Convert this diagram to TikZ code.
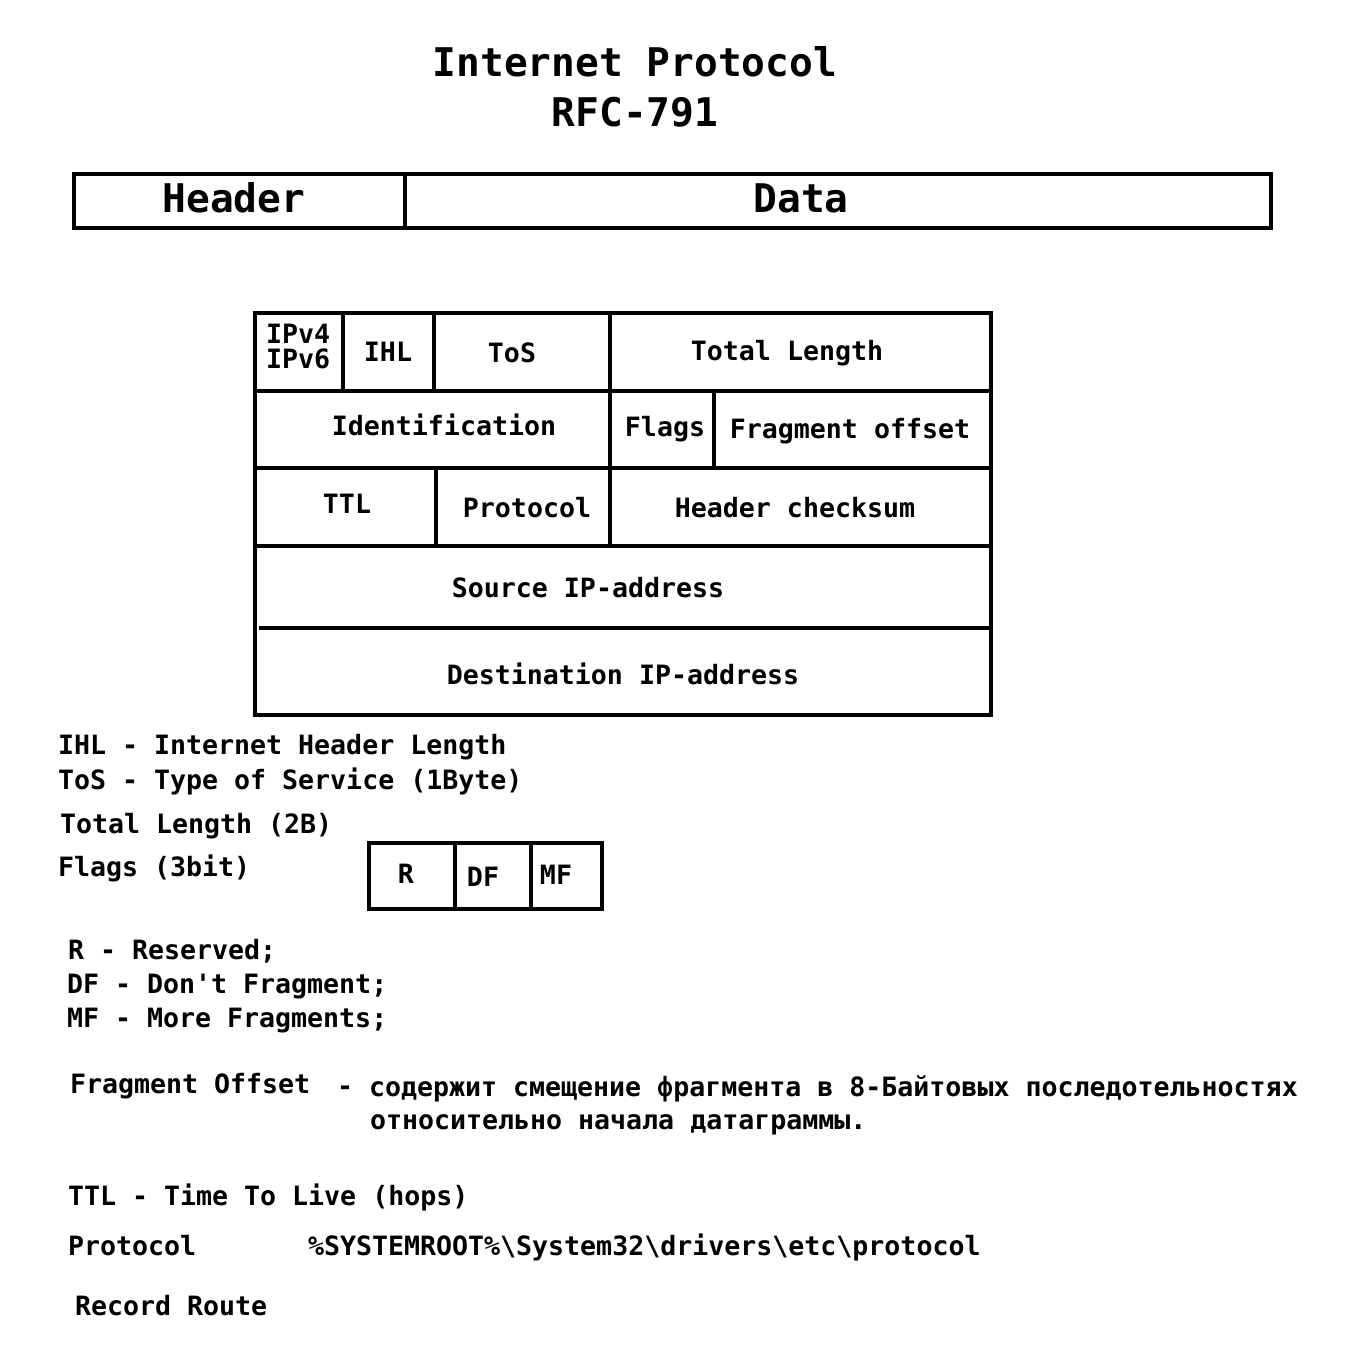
\documentclass[tikz,border=0pt]{standalone}
\usepackage{fontspec}
\setmonofont{DejaVu Sans Mono}
\begin{document}
\begin{tikzpicture}[x=1pt,y=-1pt,line width=4pt,
  every node/.style={inner sep=0pt,font=\ttfamily\bfseries\fontsize{26.6}{30}\selectfont},
  big/.style={font=\ttfamily\bfseries\fontsize{39.5}{44}\selectfont},
  cell/.style={anchor=base},
  txt/.style={anchor=base west}]
\useasboundingbox[fill=white] (0,0) rectangle (1344,1356);

% title
\node[big,cell] (t1) at (635,77) {Internet Protocol};
\node[big,cell] (t2) at (635,127) {RFC-791};

% header / data bar
\draw (74,174) rectangle (1271,228);
\draw (405,174) -- (405,228);
\node[big,cell] (hdr) at (234,213) {Header};
\node[big,cell] (data) at (801,213) {Data};

% IP header table
\draw (255,313) rectangle (991,715);
\draw (255,391) -- (991,391);
\draw (255,468) -- (991,468);
\draw (255,546) -- (991,546);
\draw (259,628) -- (991,628);
\draw (343,313) -- (343,391);
\draw (434,313) -- (434,391);
\draw (610,313) -- (610,546);
\draw (714,391) -- (714,468);
\draw (436,468) -- (436,546);

\node[txt] (ipv4) at (264,343) {IPv4};
\node[txt] (ipv6) at (264,368) {IPv6};
\node[cell] (ihl) at (388,361) {IHL};
\node[cell] (tos) at (512,362) {ToS};
\node[cell] (tl) at (787,360) {Total Length};
\node[cell] (ident) at (444,435) {Identification};
\node[cell] (flags) at (665,436) {Flags};
\node[cell] (fo) at (850,438) {Fragment offset};
\node[cell] (ttl) at (347,513) {TTL};
\node[cell] (proto) at (527,517) {Protocol};
\node[cell] (hc) at (795,517) {Header checksum};
\node[cell] (src) at (588,597) {Source IP-address};
\node[cell] (dst) at (623,684) {Destination IP-address};

% legend
\node[txt] (l1) at (56,754) {IHL - Internet Header Length};
\node[txt] (l2) at (56,789) {ToS - Type of Service (1Byte)};
\node[txt] (l3) at (58,833) {Total Length (2B)};
\node[txt] (l4) at (56,876) {Flags (3bit)};

% flags box
\draw (369,843) rectangle (602,909);
\draw (455,843) -- (455,909);
\draw (531,843) -- (531,909);
\node[cell] (fr) at (406,883) {R};
\node[cell] (fdf) at (483,886) {DF};
\node[cell] (fmf) at (556,884) {MF};

\node[txt] (r1) at (66,959) {R - Reserved;};
\node[txt] (r2) at (65,993) {DF - Don't Fragment;};
\node[txt] (r3) at (65,1027) {MF - More Fragments;};

\node[txt] (fo1) at (68,1093) {Fragment Offset};
\node[txt] (fo2) at (335,1095) {-};
\node[txt] (fo3) at (367,1096) {содержит смещение фрагмента в 8-Байтовых последотельностях};
\node[txt] (fo4) at (368,1129) {относительно начала датаграммы.};

\node[txt] (ttl2) at (66,1205) {TTL - Time To Live (hops)};
\node[txt] (pr1) at (66,1255) {Protocol};
\node[txt] (pr2) at (306,1255) {\%SYSTEMROOT\%\textbackslash System32\textbackslash drivers\textbackslash etc\textbackslash protocol};
\node[txt] (rr) at (73,1315) {Record Route};
\end{tikzpicture}
\end{document}
